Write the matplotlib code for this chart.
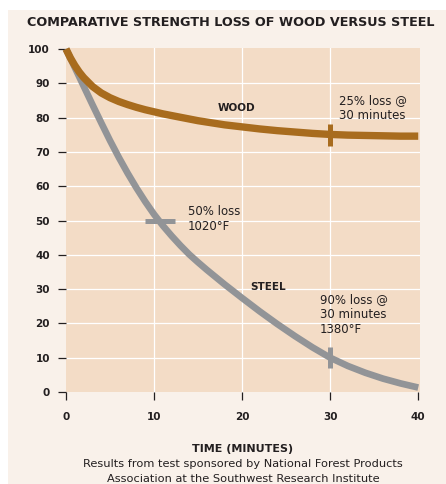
import matplotlib
matplotlib.use("Agg")
import matplotlib.pyplot as plt
from matplotlib.patches import Rectangle

# time in minutes and remaining strength (%)
minutes = [0, 0.5, 1, 1.5, 2, 3, 4, 5, 6, 7, 8, 9, 10, 11, 12, 13, 14, 15, 16, 17, 18, 19, 20,
           22, 24, 26, 28, 30, 32, 34, 36, 38, 40]
wood = [100, 97.4, 95.2, 93.3, 91.7, 89.1, 87.2, 85.8, 84.7, 83.8, 83.0, 82.3, 81.7, 81.1, 80.6,
        80.1, 79.6, 79.1, 78.7, 78.3, 77.9, 77.6, 77.3, 76.7, 76.2, 75.8, 75.4, 75.1, 74.9,
        74.8, 74.7, 74.6, 74.6]
steel = [100, 97.3, 94.6, 91.9, 89.2, 83.8, 78.5, 73.3, 68.4, 63.8, 59.5, 55.5, 51.8, 48.5, 45.5,
         42.7, 40.1, 37.8, 35.6, 33.5, 31.4, 29.4, 27.4, 23.5, 19.8, 16.3, 13.0, 10.0, 7.6,
         5.6, 3.9, 2.5, 1.3]

x_ticks = [0, 10, 20, 30, 40]
y_ticks = [0, 10, 20, 30, 40, 50, 60, 70, 80, 90, 100]

# reference marks on the curves
wood_mark = (30, 75)
steel_marks = [(10.7, 50, "h"), (30, 10, "v")]

dark = "#231f20"
wood_c = "#a86c1e"
steel_c = "#929497"

fig = plt.figure(figsize=(4.46, 4.84), dpi=100)
fig.patch.set_facecolor("white")
fig.patches.append(Rectangle((8 / 446, 0), 1, 1 - 10 / 484, transform=fig.transFigure,
                             facecolor="#f9f1ea", edgecolor="none", zorder=-10))

ax = fig.add_axes([66 / 446, 1 - 392 / 484, 354 / 446, 344 / 484])
ax.set_facecolor("#f3dcc6")
ax.set_xlim(0, 40.2)
ax.set_ylim(0, 100.3)
for s in ax.spines.values():
    s.set_visible(False)

for t in [10, 20, 30]:
    ax.axvline(t, color="white", lw=0.9, zorder=1)
for v in y_ticks[1:-1]:
    ax.axhline(v, color="white", lw=0.9, zorder=1)

ax.plot(minutes, steel, color=steel_c, lw=4.8, solid_capstyle="butt", zorder=3, clip_on=False)
ax.plot(minutes, wood, color=wood_c, lw=5.3, solid_capstyle="butt", zorder=4, clip_on=False)

ax.plot([wood_mark[0]] * 2, [wood_mark[1] - 3.2, wood_mark[1] + 3.2],
        color=wood_c, lw=3.6, solid_capstyle="butt", zorder=5)
for t, v, d in steel_marks:
    if d == "h":
        ax.plot([t - 1.7, t + 1.7], [v, v], color=steel_c, lw=3.6, solid_capstyle="butt", zorder=5)
    else:
        ax.plot([t, t], [v - 3, v + 3], color=steel_c, lw=3.6, solid_capstyle="butt", zorder=5)

ax.set_xticks(x_ticks)
ax.set_yticks(y_ticks)
ax.tick_params(axis="both", direction="out", length=5.5, width=0.9, color=dark,
               labelcolor=dark, labelsize=7.5)
ax.tick_params(axis="x", pad=9)
ax.tick_params(axis="y", pad=6)
for lab in ax.get_xticklabels() + ax.get_yticklabels():
    lab.set_fontweight("bold")

ax.text(19.4, 82.8, "WOOD", fontsize=7.5, fontweight="bold", color=dark, ha="center", va="center")
ax.text(22.9, 30.6, "STEEL", fontsize=7.5, fontweight="bold", color=dark, ha="center", va="center")
ax.text(31.0, 87.0, "25% loss @\n30 minutes", fontsize=8.5, color=dark, va="top", linespacing=1.2)
ax.text(13.8, 54.5, "50% loss\n1020°F", fontsize=8.5, color=dark, va="top", linespacing=1.2)
ax.text(28.8, 29.0, "90% loss @\n30 minutes\n1380°F", fontsize=8.5, color=dark, va="top", linespacing=1.2)

fig.text(27 / 446, 1 - 22 / 484, "COMPARATIVE STRENGTH LOSS OF WOOD VERSUS STEEL",
         fontsize=9.2, fontweight="bold", color=dark, va="center", ha="left")
fig.text(243 / 446, 1 - 449 / 484, "TIME (MINUTES)", fontsize=8, fontweight="bold",
         color=dark, ha="center", va="center")
fig.text(243 / 446, 1 - 464 / 484, "Results from test sponsored by National Forest Products",
         fontsize=8.2, color=dark, ha="center", va="center")
fig.text(243 / 446, 1 - 479 / 484, "Association at the Southwest Research Institute",
         fontsize=8.2, color=dark, ha="center", va="center")

fig.savefig("out.png", dpi=100)
